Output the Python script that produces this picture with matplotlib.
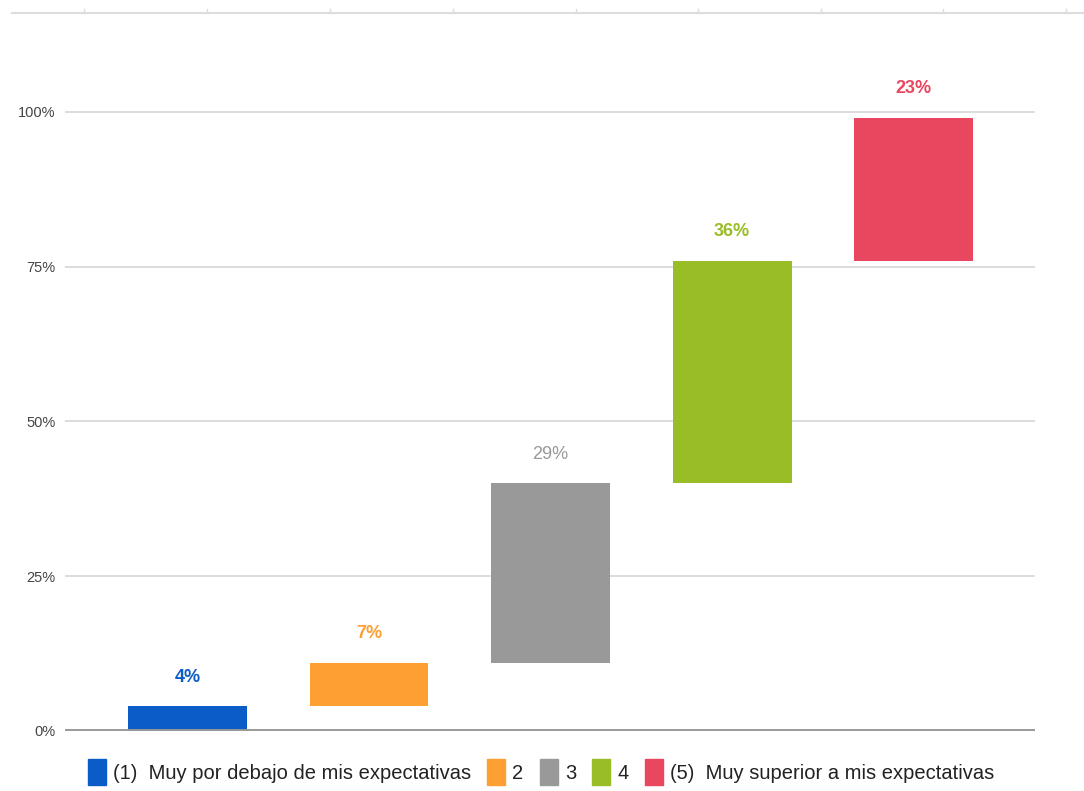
import matplotlib.pyplot as plt
from matplotlib.patches import Patch
from matplotlib.lines import Line2D

plt.rcParams['font.family'] = ['Liberation Sans', 'DejaVu Sans']

etiquetas = ['(1)  Muy por debajo de mis expectativas', '2', '3', '4',
             '(5)  Muy superior a mis expectativas']
valores = [4, 7, 29, 36, 23]
colores = ['#0b5cc6', '#fd9f33', '#999999', '#99bd27', '#e9465f']
negrita = [True, True, False, True, True]

# podstawy słupków (wodospad)
bazy = []
suma = 0
for v in valores:
    bazy.append(suma)
    suma += v

fig = plt.figure(figsize=(10.84, 7.91), dpi=100)
ax = fig.add_axes([65 / 1084, 1 - 731 / 791, 970 / 1084, (731 - 81) / 791])

x = list(range(len(valores)))
ax.bar(x, valores, bottom=bazy, width=0.655, color=colores, zorder=3)

for i, v in enumerate(valores):
    ax.annotate(f'{v}%', (i, bazy[i] + v), xytext=(0, 21), textcoords='offset points',
                ha='center', va='center', color=colores[i], fontsize=13,
                fontweight='bold' if negrita[i] else 'normal')

ax.set_xlim(-0.675, 4.669)
ax.set_ylim(0, 105)
ax.set_yticks([0, 25, 50, 75, 100])
ax.set_yticklabels(['0%', '25%', '50%', '75%', '100%'])
ax.set_xticks([])
ax.tick_params(axis='y', length=0, pad=7, labelsize=10.5, labelcolor='#444444')
for y in [25, 50, 75, 100]:
    ax.axhline(y, color='#d9d9d9', linewidth=1.3, zorder=1)
ax.axhline(0, color='#999999', linewidth=2.8, zorder=4)
for s in ax.spines.values():
    s.set_visible(False)

# linia u góry (fragment innego wykresu)
fig.add_artist(Line2D([12 / 1084, 1], [1 - 13 / 791] * 2, color='#dddddd', linewidth=1.5))
for px in [84, 207, 330, 453, 576, 698, 821, 943, 1066]:
    fig.add_artist(Line2D([px / 1084] * 2, [1 - 13 / 791, 1 - 9 / 791], color='#dddddd', linewidth=1))

uchwyty = [Patch(color=c) for c in colores]
fig.legend(uchwyty, etiquetas, loc='center', bbox_to_anchor=(541 / 1084, 1 - 772 / 791),
           ncol=5, frameon=False, fontsize=14.5, handlelength=0.9, handleheight=1.6,
           handletextpad=0.35, columnspacing=0.8, labelcolor='#222222')

fig.savefig('out.png', dpi=100, facecolor='white')
